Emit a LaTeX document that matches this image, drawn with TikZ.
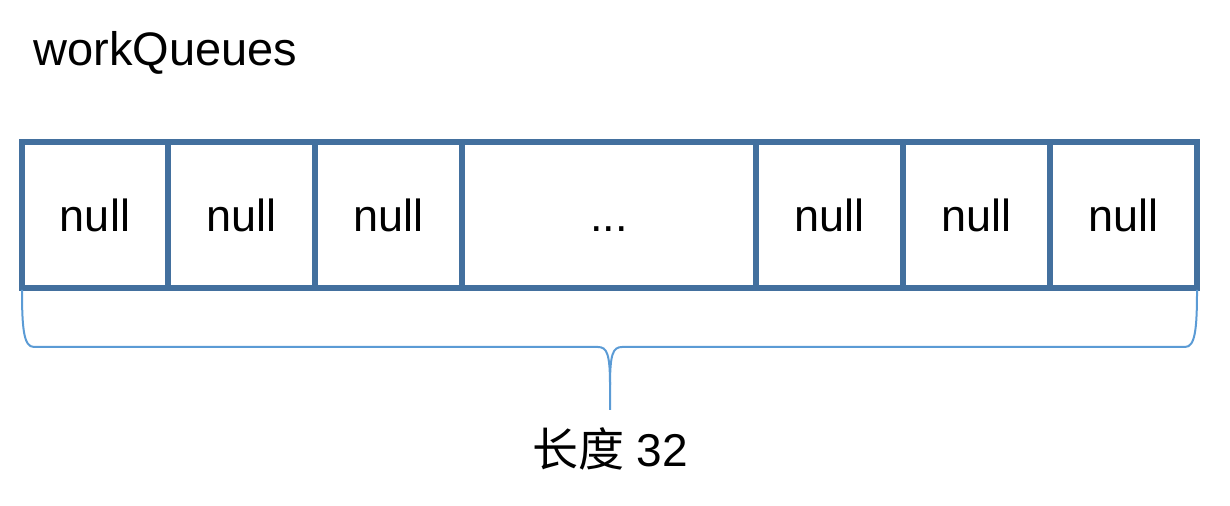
\documentclass[tikz,border=0pt]{standalone}
\usepackage{fontspec}
\setmainfont{Liberation Sans}
\newfontfamily\cjk{Noto Sans CJK SC}
\usepackage{tikz}

\definecolor{cellblue}{RGB}{67,112,158}
\definecolor{braceblue}{RGB}{91,155,213}

\tikzset{
    cell/.style={draw=cellblue, line width=3pt, minimum height=73pt, inner sep=0pt, outer sep=0pt, font=\fontsize{22.5}{26}\selectfont},
}

\begin{document}
\begin{tikzpicture}[x=0.5pt,y=-0.5pt]
    \useasboundingbox (0,0) rectangle (1230,506);

    \node[anchor=base west, inner sep=0pt, font=\fontsize{23.5}{28}\selectfont] (title) at (33,66) {workQueues};

    \node[cell, minimum width=73pt] (c1) at (95,215) {null};
    \node[cell, minimum width=73.5pt] (c2) at (241.5,215) {null};
    \node[cell, minimum width=73.5pt] (c3) at (388.5,215) {null};
    \node[cell, minimum width=147pt] (c4) at (609,215) {\vphantom{null}{.}{.}{.}};
    \node[cell, minimum width=73.5pt] (c5) at (829.5,215) {null};
    \node[cell, minimum width=73.5pt] (c6) at (976.5,215) {null};
    \node[cell, minimum width=73.5pt] (c7) at (1123.5,215) {null};

    % brace under the array
    \draw[braceblue, line width=1pt]
        (22,290) .. controls (22,330) and (24,347) .. (34,347) -- (598,347)
        .. controls (607,347) and (610,354) .. (610,385) -- (610,410);
    \draw[braceblue, line width=1pt]
        (1197,290) .. controls (1197,330) and (1195,347) .. (1185,347) -- (622,347)
        .. controls (613,347) and (610,354) .. (610,385);

    \node[anchor=base, font=\fontsize{23}{27}\selectfont] (len) at (610,467) {{\cjk 长度} 32};
\end{tikzpicture}
\end{document}
